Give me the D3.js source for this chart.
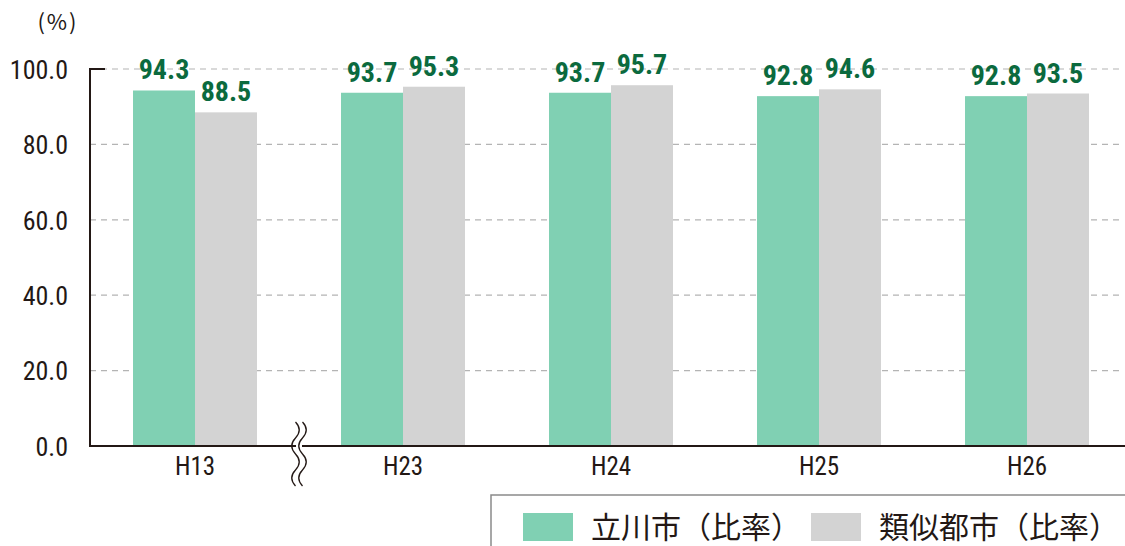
<!DOCTYPE html>
<html><head><meta charset="utf-8">
<script src="https://cdn.jsdelivr.net/npm/d3@7"></script>
<style>
body{margin:0;background:#fff;}
svg{display:block;}
</style></head>
<body>
<svg id="chart" width="1125" height="546"></svg>
<script>
const categories = ["H13","H23","H24","H25","H26"];
const seriesNames = ["立川市（比率）","類似都市（比率）"];
const tachikawa = [94.3, 93.7, 93.7, 92.8, 92.8];
const similar = [88.5, 95.3, 95.7, 94.6, 93.5];
const yTicks = [0, 20, 40, 60, 80, 100];
const colors = ["#80d0b3", "#d3d3d3"];

(function(){
const svg = d3.select("#chart");
const numFont = "'Liberation Sans Narrow','Roboto Condensed','Roboto',sans-serif";
const jpFont = "'Noto Sans CJK JP','Noto Sans',sans-serif";

const mLeft = 90, mRight = 1120, mTop = 69, mBottom = 446;
const y = d3.scaleLinear().domain([0, 100]).range([mBottom, mTop]);
const x = d3.scaleBand().domain(categories).range([91, 1131]).paddingInner(0.404).paddingOuter(0.202);
const xs = d3.scaleBand().domain([0,1]).range([0, x.bandwidth()]);

// gridlines
svg.append("g").selectAll("line").data(yTicks.filter(d => d > 0)).join("line")
  .attr("x1", mLeft).attr("x2", mRight)
  .attr("y1", d => y(d)).attr("y2", d => y(d))
  .attr("stroke", "#b4b4b4").attr("stroke-width", 1.2).attr("stroke-dasharray", "6,5");

// y axis labels
const yAxis = d3.axisLeft(y).tickValues(yTicks).tickFormat(d3.format(".1f")).tickSize(0).tickPadding(22);
const ya = svg.append("g").attr("transform", `translate(${mLeft},0)`).call(yAxis);
ya.select(".domain").remove();
ya.selectAll("text").attr("font-family", numFont).attr("font-size", 26).attr("fill", "#231815").attr("dy", "0.36em");

// bars
const series = [tachikawa, similar];
const g = svg.append("g");
series.forEach((vals, si) => {
  g.selectAll(null).data(vals).join("rect")
    .attr("x", (d, i) => x(categories[i]) + xs(si))
    .attr("width", xs.bandwidth())
    .attr("y", d => y(d))
    .attr("height", d => mBottom - y(d))
    .attr("fill", colors[si]);
});
series.forEach((vals, si) => {
  g.selectAll(null).data(vals).join("text")
    .attr("x", (d, i) => x(categories[i]) + xs(si) + xs.bandwidth() / 2)
    .attr("y", d => y(d) - 11)
    .attr("text-anchor", "middle")
    .attr("font-family", numFont).attr("font-weight", "bold").attr("font-size", 28)
    .attr("fill", "#0b6a3e")
    .text(d => d.toFixed(1));
});

// axis lines
svg.append("path")
  .attr("d", `M${mLeft + 15},${mTop}H${mLeft}V${mBottom}H${mRight + 10}`)
  .attr("fill", "none").attr("stroke", "#231815").attr("stroke-width", 2);

// x labels
const xAxis = d3.axisBottom(x).tickSize(0).tickPadding(10);
const xa = svg.append("g").attr("transform", `translate(0,${mBottom})`).call(xAxis);
xa.select(".domain").remove();
xa.selectAll("text").attr("font-family", numFont).attr("font-size", 25).attr("fill", "#231815").attr("dy", "0.75em");

// break mark between H13 and H23
const bx = (x(categories[0]) + x.bandwidth() + x(categories[1])) / 2;
function wave(x0) {
  const p = d3.path();
  const y0 = 422, h = 64, n = 4, seg = h / n;
  p.moveTo(x0, y0);
  for (let k = 0; k < n; k++) {
    const dir = k % 2 === 0 ? 1 : -1;
    p.bezierCurveTo(x0 + dir * 5, y0 + seg * k + seg * 0.33, x0 + dir * 5, y0 + seg * k + seg * 0.66, x0, y0 + seg * (k + 1));
  }
  return p.toString();
}
svg.append("rect").attr("x", bx - 3).attr("y", mBottom - 3).attr("width", 6).attr("height", 6).attr("fill", "#fff");
[-3.5, 3.5].forEach(o => {
  svg.append("path").attr("d", wave(bx + o)).attr("fill", "none").attr("stroke", "#231815").attr("stroke-width", 1.3);
});

// unit label
svg.append("text").attr("x", 58).attr("y", 30).attr("text-anchor", "middle")
  .attr("font-family", jpFont).attr("font-size", 22).attr("letter-spacing", 2).attr("fill", "#231815").text("(%)");

// legend
svg.append("path").attr("d", "M491,546V495H1125").attr("fill", "none").attr("stroke", "#8a8a8a").attr("stroke-width", 1.5);
const legendX = [523, 811];
seriesNames.forEach((name, i) => {
  svg.append("rect").attr("x", legendX[i]).attr("y", 513).attr("width", 50).attr("height", 28).attr("fill", colors[i]);
  svg.append("text").attr("x", legendX[i] + 68).attr("y", 538)
    .attr("font-family", jpFont).attr("font-size", 30).attr("fill", "#231815").text(name);
});
})();
</script>
</body></html>
